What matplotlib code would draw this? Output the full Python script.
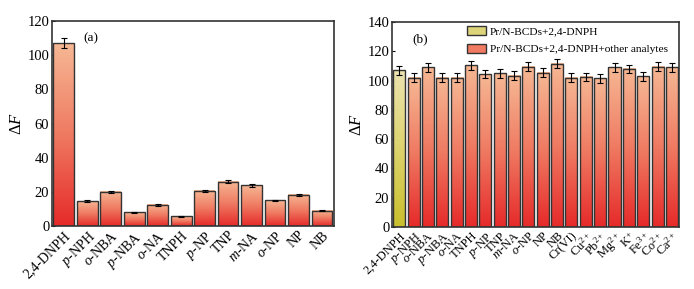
import numpy as np
import matplotlib
matplotlib.use("Agg")
import matplotlib.pyplot as plt
from matplotlib.colors import LinearSegmentedColormap
from matplotlib.patches import Patch

plt.rcParams['font.family'] = ['Liberation Serif', 'DejaVu Serif']
plt.rcParams['mathtext.fontset'] = 'custom'
plt.rcParams['mathtext.rm'] = 'Liberation Serif'
plt.rcParams['mathtext.it'] = 'Liberation Serif:italic'
plt.rcParams['mathtext.bf'] = 'Liberation Serif:bold'

# panel (a) data
labels_a = [r'2,4-DNPH', r'$\it{p}$-NPH', r'$\it{o}$-NBA', r'$\it{p}$-NBA', r'$\it{o}$-NA', 'TNPH',
            r'$\it{p}$-NP', 'TNP', r'$\it{m}$-NA', r'$\it{o}$-NP', 'NP', 'NB']
vals_a = [107, 14.5, 20, 8, 12.3, 5.8, 20.5, 26, 23.8, 15, 18.2, 9]
errs_a = [3, 0.5, 0.7, 0.3, 0.5, 0.3, 0.6, 0.8, 0.7, 0.5, 0.6, 0.4]

# panel (b) data
labels_b = [r'2,4-DNPH', r'$\it{p}$-NPH', r'$\it{o}$-NBA', r'$\it{p}$-NBA', r'$\it{o}$-NA', 'TNPH',
            r'$\it{p}$-NP', 'TNP', r'$\it{m}$-NA', r'$\it{o}$-NP', 'NP', 'NB', 'Cr(VI)',
            r'Cu$^{2+}$', r'Pb$^{2+}$', r'Mg$^{2+}$', r'K$^{+}$', r'Fe$^{3+}$', r'Co$^{2+}$', r'Ca$^{2+}$']
vals_b = [107, 102, 109, 102, 102, 110.5, 104.5, 105, 103.5, 109.5, 105.5, 111.5, 102,
          102.5, 101.5, 109, 108, 103, 109.5, 109]
errs_b = [3, 3, 3, 3, 3, 3, 3, 3, 3, 3, 3, 3, 3, 3, 3, 3, 3, 3, 3, 3]

red_cmap = LinearSegmentedColormap.from_list('r', ['#e62a2a', '#ef7a62', '#f6b894'])
yel_cmap = LinearSegmentedColormap.from_list('y', ['#c9bf2c', '#dcd36e', '#ece3b0'])
grad = np.linspace(0, 1, 256).reshape(-1, 1)


def grad_bars(ax, vals, errs, width, cmaps):
    x = np.arange(len(vals))
    bars = ax.bar(x, vals, width, facecolor='none', edgecolor='#333333', linewidth=1.0, zorder=3)
    for b, cm in zip(bars, cmaps):
        x0, y0 = b.get_x(), b.get_y()
        ax.imshow(grad, cmap=cm, origin='lower', aspect='auto', zorder=2,
                  extent=[x0, x0 + b.get_width(), y0, y0 + b.get_height()])
    ax.errorbar(x, vals, yerr=errs, fmt='none', ecolor='black', elinewidth=0.8,
                capsize=2, capthick=0.8, zorder=4)
    return x


fig = plt.figure(figsize=(6.94, 2.89), dpi=100)
ax1 = fig.add_axes([0.075, 0.218, 0.406, 0.709])
ax2 = fig.add_axes([0.565, 0.2145, 0.4135, 0.709])

x1 = grad_bars(ax1, vals_a, errs_a, 0.88, [red_cmap] * len(vals_a))
ax1.set_xlim(-0.5, len(vals_a) - 0.5)
ax1.set_ylim(0, 120)
ax1.set_yticks(range(0, 121, 20))
ax1.set_xticks(x1)
ax1.set_xticklabels(labels_a, rotation=45, ha='right', rotation_mode='anchor', fontsize=10)
ax1.text(0.11, 0.9, '(a)', transform=ax1.transAxes, fontsize=9.5)

x2 = grad_bars(ax2, vals_b, errs_b, 0.84, [yel_cmap] + [red_cmap] * (len(vals_b) - 1))
ax2.set_xlim(-0.5, len(vals_b) - 0.5)
ax2.set_ylim(0, 140)
ax2.set_yticks(range(0, 141, 20))
ax2.set_xticks(x2)
ax2.set_xticklabels(labels_b, rotation=45, ha='right', rotation_mode='anchor', fontsize=9)
ax2.text(0.07, 0.9, '(b)', transform=ax2.transAxes, fontsize=9.5)
handles = [Patch(facecolor='#ddd47a', edgecolor='#333333'),
           Patch(facecolor='#f07a62', edgecolor='#333333')]
ax2.legend(handles, ['Pr/N-BCDs+2,4-DNPH', 'Pr/N-BCDs+2,4-DNPH+other analytes'],
           loc='upper left', bbox_to_anchor=(0.225, 1.03), frameon=False, fontsize=8.2,
           handlelength=1.7, handleheight=0.8, labelspacing=0.65, handletextpad=0.3)

for ax in (ax1, ax2):
    ax.set_ylabel(r'$\Delta \mathbf{\it{F}}$', fontsize=12, labelpad=2)
    ax.tick_params(axis='y', direction='in', length=2, labelsize=10.5, pad=2)
    ax.tick_params(axis='x', length=0, pad=2)
    for s in ax.spines.values():
        s.set_linewidth(1.2)
        s.set_color('#333333')

fig.savefig('out.png', dpi=100)
